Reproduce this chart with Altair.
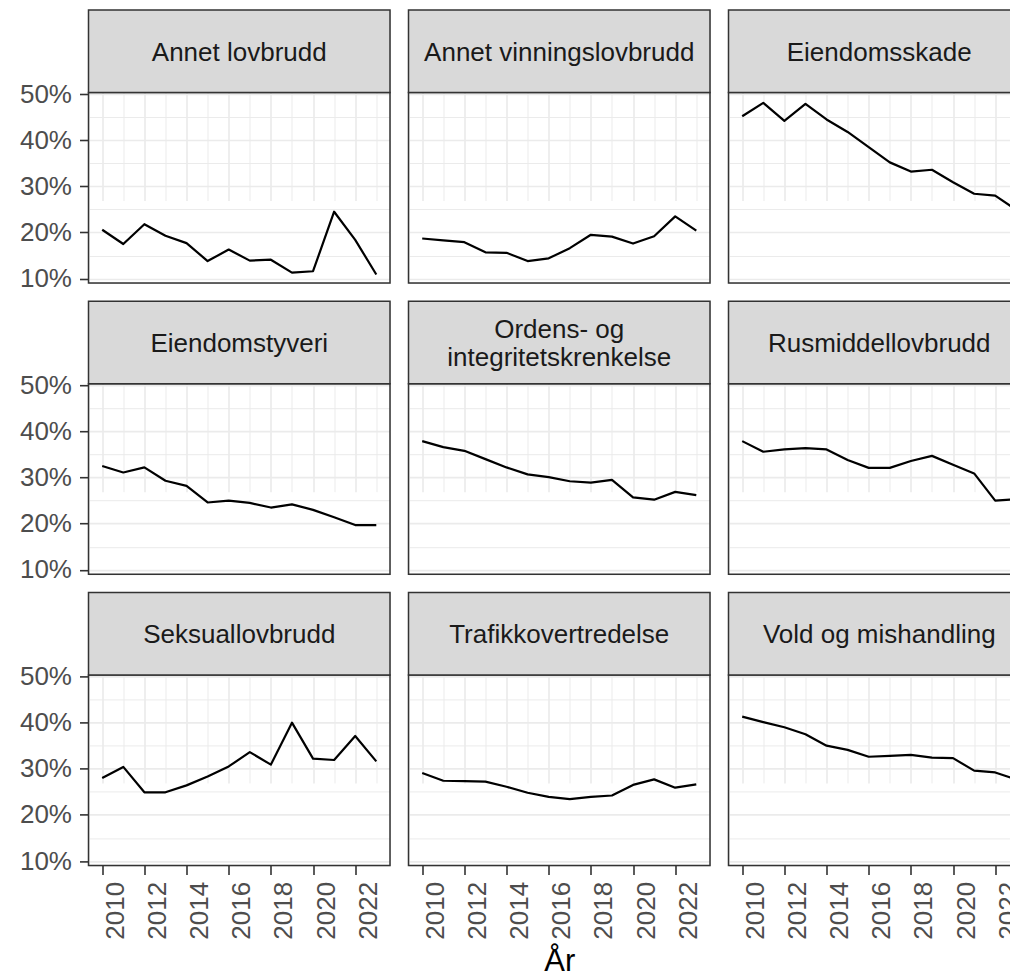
import altair as alt
import pandas as pd

# ---- data (andel, percent) ----
years = list(range(2010, 2024))

categories = [
    "Annet lovbrudd", "Annet vinningslovbrudd", "Eiendomsskade",
    "Eiendomstyveri", "Ordens- og integritetskrenkelse", "Rusmiddellovbrudd",
    "Seksuallovbrudd", "Trafikkovertredelse", "Vold og mishandling",
]
strip_labels = [
    "Annet lovbrudd", "Annet vinningslovbrudd", "Eiendomsskade",
    "Eiendomstyveri", "Ordens- og\nintegritetskrenkelse", "Rusmiddellovbrudd",
    "Seksuallovbrudd", "Trafikkovertredelse", "Vold og mishandling",
]

annet_lovbrudd = [20.6, 17.5, 21.8, 19.3, 17.7, 13.8, 16.3, 13.9, 14.1, 11.3, 11.6, 24.5, 18.4, 10.9]
annet_vinning = [18.7, 18.3, 17.9, 15.7, 15.6, 13.8, 14.4, 16.6, 19.5, 19.1, 17.6, 19.2, 23.5, 20.4]
eiendomsskade = [45.2, 48.1, 44.2, 47.9, 44.5, 41.8, 38.5, 35.2, 33.2, 33.6, 30.9, 28.4, 28.0, 24.9]
eiendomstyveri = [32.5, 31.1, 32.2, 29.3, 28.2, 24.6, 25.0, 24.5, 23.5, 24.2, 23.0, 21.4, 19.7, 19.7]
ordens = [37.9, 36.6, 35.8, 34.0, 32.2, 30.7, 30.1, 29.2, 28.9, 29.5, 25.7, 25.2, 26.9, 26.2]
rusmiddel = [37.9, 35.6, 36.1, 36.4, 36.1, 33.8, 32.1, 32.1, 33.6, 34.7, 32.8, 30.9, 25.0, 25.3]
seksual = [28.0, 30.4, 24.9, 24.9, 26.4, 28.3, 30.5, 33.6, 30.9, 40.0, 32.2, 31.9, 37.1, 31.6]
trafikk = [29.1, 27.4, 27.3, 27.2, 26.1, 24.8, 23.9, 23.4, 23.9, 24.2, 26.5, 27.7, 25.9, 26.6]
vold = [41.3, 40.1, 39.0, 37.5, 35.0, 34.1, 32.6, 32.8, 33.0, 32.4, 32.3, 29.6, 29.2, 27.7]

series = [annet_lovbrudd, annet_vinning, eiendomsskade, eiendomstyveri, ordens,
          rusmiddel, seksual, trafikk, vold]

x_ticks = years
y_ticks = [0.10, 0.15, 0.20, 0.25, 0.30, 0.35, 0.40, 0.45, 0.50]
x_title = "År"

rows = []
for cat, lab, vals in zip(categories, strip_labels, series):
    for yr, v in zip(years, vals):
        rows.append({"kategori": cat, "strip": lab, "aar": yr, "andel": v / 100})
df = pd.DataFrame(rows)

# ---- layout / style constants ----
W = 301.5
STRIP_H = 82.5
PANEL_H = 190.5
H = STRIP_H + PANEL_H
FONT = "Liberation Sans"
BORDER = "#333333"
GRID = "#EBEBEB"
LINE_H = 28.3
LABEL_SIZE = 26
X_MAJOR = "datum.value % 2 === 0"
Y_MAJOR = "round(datum.value * 100) % 10 === 0"


def cond(test, yes, no):
    return {"condition": {"test": test, "value": yes}, "value": no}


def x_axis(show, title):
    common = dict(
        values=x_ticks, domain=False, grid=True, gridColor=GRID,
        gridWidth=cond(X_MAJOR, 1.7, 1.0),
    )
    if not show:
        return alt.Axis(labels=False, ticks=False, title=None, **common)
    if title:
        extra = dict(title=title, titleFont=FONT, titleFontSize=31,
                     titleFontWeight="normal", titleColor="black", titlePadding=7)
    else:
        extra = dict(title=None)
    return alt.Axis(
        labelExpr="datum.value % 2 === 0 ? '' + datum.value : ''",
        labelAngle=270, labelAlign="right", labelBaseline="top",
        labelFontSize=cond(X_MAJOR, LABEL_SIZE, 0),
        labelColor="#4D4D4D", labelFont=FONT,
        labelPadding=7, labelOverlap=False, labelFlush=False,
        tickSize=9, tickWidth=1.6, tickColor=BORDER,
        tickOpacity=cond(X_MAJOR, 1, 0),
        **extra, **common,
    )


def y_axis(show):
    common = dict(
        values=y_ticks, domain=False, grid=True, gridColor=GRID, title=None,
        gridWidth=cond(Y_MAJOR, 1.7, 1.0),
    )
    if not show:
        return alt.Axis(labels=False, ticks=False, **common)
    return alt.Axis(
        labelExpr="round(datum.value * 100) % 10 === 0 ? format(datum.value, '.0%') : ''",
        labelFontSize=cond(Y_MAJOR, LABEL_SIZE, 0),
        labelColor="#4D4D4D", labelFont=FONT,
        labelPadding=8, labelOverlap=False, labelFlush=False,
        tickSize=9, tickWidth=1.6, tickColor=BORDER,
        tickOpacity=cond(Y_MAJOR, 1, 0),
        **common,
    )


def panel(cat, label, row, col):
    x_enc = alt.X(
        "aar:Q",
        scale=alt.Scale(domain=[2009.35, 2023.65], nice=False, zero=False),
        axis=x_axis(row == 2, x_title if (row == 2 and col == 1) else None),
    )
    y_enc = alt.Y(
        "andel:Q",
        scale=alt.Scale(domain=[0.0905, 0.5035], nice=False, zero=False,
                        range=[H, STRIP_H]),
        axis=y_axis(col == 0),
    )
    line = alt.Chart().mark_line(
        color="black", strokeWidth=2.2, strokeJoin="round"
    ).encode(x=x_enc, y=y_enc)

    first = alt.Chart().transform_filter(alt.datum.aar == 2010)
    panel_border = first.mark_rect(
        fillOpacity=0, stroke=BORDER, strokeWidth=1.5
    ).encode(x=alt.value(0), x2=alt.value(W), y=alt.value(STRIP_H), y2=alt.value(H))
    strip_box = first.mark_rect(
        fill="#D9D9D9", stroke=BORDER, strokeWidth=1.5
    ).encode(x=alt.value(0), x2=alt.value(W), y=alt.value(0), y2=alt.value(STRIP_H))
    n_lines = label.count("\n") + 1
    text_y = STRIP_H / 2 + 1.5 - (n_lines - 1) * LINE_H / 2
    strip_text = first.mark_text(
        font=FONT, fontSize=LABEL_SIZE, color="#1A1A1A", align="center",
        baseline="middle", lineBreak="\n", lineHeight=LINE_H,
    ).encode(x=alt.value(W / 2), y=alt.value(text_y), text="strip:N")

    return alt.layer(line, panel_border, strip_box, strip_text, data=df).transform_filter(
        alt.datum.kategori == cat
    ).properties(width=W, height=H)


cells = [panel(categories[i], strip_labels[i], i // 3, i % 3) for i in range(9)]

# the reference is a crop whose right column runs off the picture's edge:
# a negative right padding trims the drawing the same way
chart = alt.concat(
    *cells, columns=3, spacing={"row": 18.2, "column": 18}
).properties(
    bounds="flush", align="each",
    padding={"left": 10.5, "top": 0, "right": -21.5, "bottom": 0},
).configure_view(stroke=None).configure(font=FONT)

chart.save("out.html", embed_options={"renderer": "svg", "actions": False})
